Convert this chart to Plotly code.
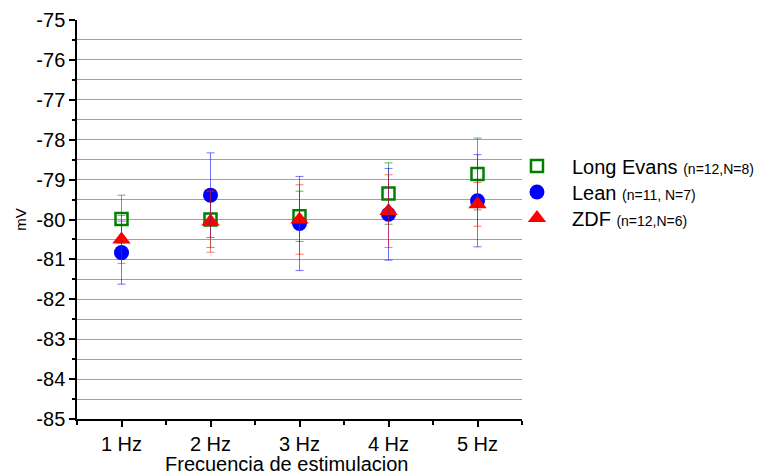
import plotly.graph_objects as go

# Stimulation frequencies (Hz)
freq = [1, 2, 3, 4, 5]

# Resting membrane potential (mV), mean and error per group
le_mean = [-79.99, -80.0, -79.92, -79.35, -78.86]
le_err = [0.6, 0.7, 0.63, 0.77, 0.9]

lean_mean = [-80.83, -79.39, -80.1, -79.87, -79.53]
lean_err = [0.79, 1.06, 1.18, 1.15, 1.155]

zdf_mean = [-80.5, -80.05, -80.0, -79.79, -79.62]
zdf_err = [0.6, 0.77, 0.87, 0.91, 0.55]

# Y tick values and labels (plain hyphen minus)
y_ticks = [-85, -84, -83, -82, -81, -80, -79, -78, -77, -76, -75]
y_labels = ["-85", "-84", "-83", "-82", "-81", "-80", "-79", "-78", "-77", "-76", "-75"]

le_name = "Long Evans <span style='font-size:14px'>(n=12,N=8)</span>"
lean_name = "Lean <span style='font-size:14px'>(n=11, N=7)</span>"
zdf_name = "ZDF <span style='font-size:14px'>(n=12,N=6)</span>"

FONT = "Arial, Liberation Sans, sans-serif"

fig = go.Figure()

groups = [
    (le_mean, le_err, le_name, dict(symbol="square-open", size=12, color="#008000",
                                    line=dict(color="#008000", width=2.5)),
     "rgba(0,128,0,0.6)", "legend"),
    (lean_mean, lean_err, lean_name, dict(symbol="circle", size=15, color="#0000ff"),
     "rgba(0,0,255,0.55)", "legend2"),
    (zdf_mean, zdf_err, zdf_name, dict(symbol="triangle-up", size=16, color="#ff0000"),
     "rgba(255,0,0,0.55)", "legend3"),
]

# Markers first
for mean, err, name, marker, ecol, leg in groups:
    fig.add_trace(go.Scatter(x=freq, y=mean, mode="markers", name=name,
                             marker=marker, showlegend=True, legend=leg))

# Error bars drawn above the markers
for mean, err, name, marker, ecol, leg in groups:
    fig.add_trace(go.Scatter(x=freq, y=mean, mode="markers",
                             marker=dict(size=1, opacity=0),
                             error_y=dict(type="data", array=err, visible=True,
                                          color=ecol, thickness=1, width=4),
                             showlegend=False, hoverinfo="skip"))


def legend_box(yc):
    return dict(x=0.955, y=yc, xanchor="left", yanchor="middle",
                font=dict(family=FONT, size=20, color="black"),
                itemwidth=60, bgcolor="rgba(0,0,0,0)", borderwidth=0)


fig.update_layout(
    width=758, height=474,
    margin=dict(l=77, r=236, t=20, b=55, autoexpand=False),
    paper_bgcolor="white", plot_bgcolor="white",
    font=dict(family=FONT, size=20, color="black"),
    legend=legend_box(0.634),
    legend2=legend_box(0.569),
    legend3=legend_box(0.504),
    xaxis=dict(
        range=[0.5, 5.5], tickmode="linear", tick0=1, dtick=1, ticksuffix=" Hz",
        showline=True, linecolor="black", linewidth=1.5,
        ticks="outside", ticklen=6, tickwidth=1.5, tickcolor="black",
        minor=dict(dtick=0.5, ticks="outside", ticklen=4, tickwidth=1.5, tickcolor="black"),
        showgrid=False, zeroline=False, automargin=False,
        tickfont=dict(size=20),
    ),
    yaxis=dict(
        range=[-85, -75], tickmode="array", tickvals=y_ticks, ticktext=y_labels,
        showline=True, linecolor="black", linewidth=1.5,
        ticks="outside", ticklen=6, tickwidth=1.5, tickcolor="black",
        minor=dict(dtick=0.5, tick0=-85, ticks="outside", ticklen=3, tickwidth=1.5,
                   tickcolor="black", showgrid=True, gridcolor="#a0a0a0", gridwidth=1),
        showgrid=True, gridcolor="#a0a0a0", gridwidth=1, zeroline=False, automargin=False,
        title=dict(text="mV", font=dict(size=15), standoff=6),
        tickfont=dict(size=20),
    ),
    annotations=[dict(text="Frecuencia de estimulacion", xref="paper", yref="paper",
                      x=0.47, y=-0.112, xanchor="center", yanchor="middle",
                      showarrow=False, font=dict(family=FONT, size=20, color="black"))],
)

fig.write_html("out.html")
